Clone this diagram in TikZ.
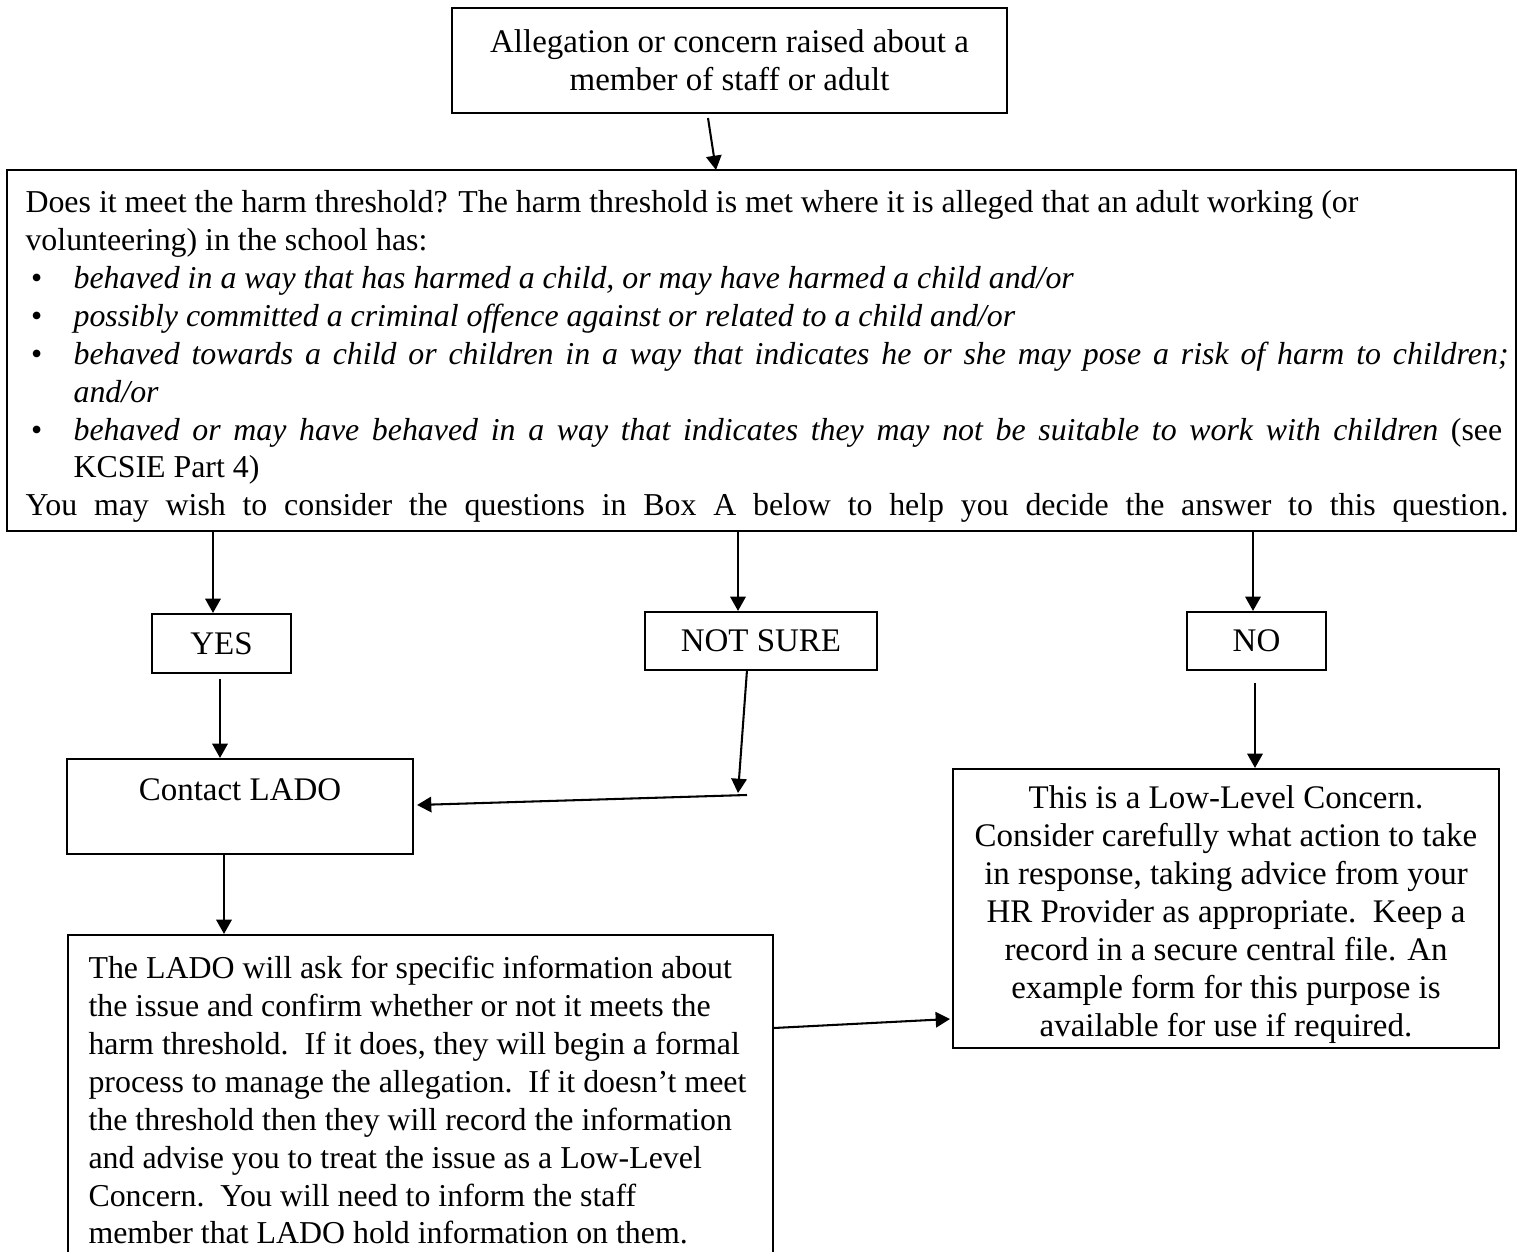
\documentclass[tikz,border=0pt]{standalone}
\usepackage{fontspec}
\setmainfont{Liberation Serif}
\usetikzlibrary{arrows.meta,fit}
\newcommand\blt{\makebox[17.5pt][l]{\hspace*{2pt}\textbullet}}
\newcommand\indnt{\hspace*{17.5pt}}
\begin{document}
\begin{tikzpicture}[x=0.364pt,y=-0.364pt,
  frame/.style={draw,line width=0.75pt,inner sep=0pt},
  txt/.style={inner sep=0pt,font=\fontsize{12}{13.8}\selectfont},
  body/.style={inner sep=0pt,font=\fontsize{11.6}{13.8}\selectfont},
  arr/.style={line width=0.75pt,-{Triangle[length=5.2pt,width=5.6pt]}},
  ln/.style={line width=0.75pt}]
\useasboundingbox (0,0) rectangle (1523,1252);
\clip (0,0) rectangle (1523,1252);

% boxes
\node[frame,fit={(452,8)(1007,113)}] (top) {};
\node[txt,align=center] (topt) at (top.center) {Allegation or concern raised about a\\member of staff or adult};

\node[frame,fit={(7,170)(1516,531)}] (q) {};
\node[body,align=left,anchor=north west] (qt) at (25,185.5) {\strut Does it meet the harm threshold? The harm threshold is met where it is alleged that an adult working (or\\
volunteering) in the school has:\\
\blt\textit{behaved in a way that has harmed a child, or may have harmed a child and/or}\\
\blt\textit{possibly committed a criminal offence against or related to a child and/or}\\
\blt\makebox[522.3pt][s]{\textit{behaved towards a child or children in a way that indicates he or she may pose a risk of harm to children;}}\\
\indnt\textit{and/or}\\
\blt\makebox[520pt][s]{\textit{behaved or may have behaved in a way that indicates they may not be suitable to work with children} (see}\\
\indnt KCSIE Part 4)\\
\makebox[539.8pt][s]{You may wish to consider the questions in Box A below to help you decide the answer to this question.}};

\node[frame,fit={(152,614)(291,673)}] (yes) {};
\node[txt] (yest) at (yes.center) {YES};
\node[frame,fit={(645,612)(877,670)}] (ns) {};
\node[txt] (nst) at (ns.center) {NOT SURE};
\node[frame,fit={(1187,612)(1326,670)}] (no) {};
\node[txt] (not) at (no.center) {NO};

\node[frame,fit={(67,759)(413,854)}] (lado) {};
\node[txt,anchor=base] (ladot) at (240,801) {Contact LADO};

\node[frame,fit={(68,935)(773,1280)}] (info) {};
\node[body,align=left,anchor=north west] (infot) at (88,951.5) {\strut The LADO will ask for specific information about\\
the issue and confirm whether or not it meets the\\
harm threshold.\ \ If it does, they will begin a formal\\
process to manage the allegation.\ \ If it doesn't meet\\
the threshold then they will record the information\\
and advise you to treat the issue as a Low-Level\\
Concern.\ \ You will need to inform the staff\\
member that LADO hold information on them.};

\node[frame,fit={(953,769)(1499,1048)}] (ll) {};
\node[txt,align=center] (llt) at ([shift={(0,6)}]ll.center) {This is a Low-Level Concern.\\
Consider carefully what action to take\\
in response, taking advice from your\\
HR Provider as appropriate.\ \ Keep a\\
record in a secure central file. An\\
example form for this purpose is\\
available for use if required.};

% connector end points
\coordinate (a1) at (708,118);
\coordinate (a2) at (716,170);
\coordinate (y1) at (213,531);
\coordinate (n1) at (738,531);
\coordinate (o1) at (1253,531);
\coordinate (y2) at (220,679);
\coordinate (n2) at (747,670);
\coordinate (n3) at (738,793);
\coordinate (n4) at (747,795);
\coordinate (l1) at (224,854);
\coordinate (i1) at (774,1028);
\coordinate (i2) at (950,1019);
\coordinate (o2) at (1255,683);

% connectors
\draw[arr] (a1) -- (a2);
\draw[arr] (y1) -- (y1 |- yes.north);
\draw[arr] (n1) -- (n1 |- ns.north);
\draw[arr] (o1) -- (o1 |- no.north);
\draw[arr] (y2) -- (y2 |- lado.north);
\draw[arr] (n2) -- (n3);
\draw[arr] (n4) -- ([shift={(3,-1.5)}]lado.east);
\draw[arr] (l1) -- (l1 |- info.north);
\draw[arr] (i1) -- (i2);
\draw[arr] (o2) -- (o2 |- ll.north);
\end{tikzpicture}
\end{document}
